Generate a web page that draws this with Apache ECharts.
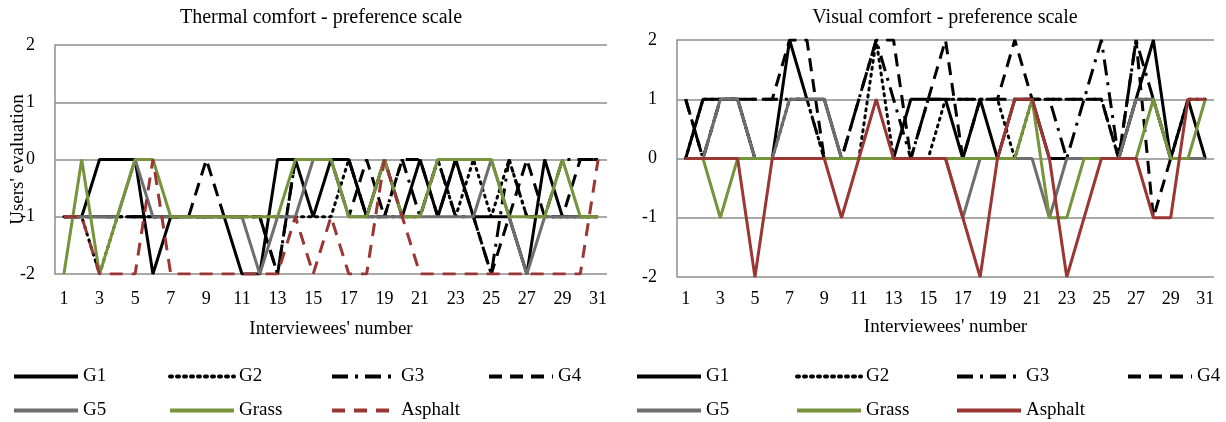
<!DOCTYPE html>
<html>
<head>
<meta charset="utf-8">
<script src="https://cdn.jsdelivr.net/npm/echarts@6/dist/echarts.min.js"></script>
<style>
  html, body { margin: 0; padding: 0; background: #fff; }
  #main { width: 1226px; height: 422px; }
</style>
</head>
<body>
<div id="main"></div>
<script>
// interviewees 1..31
var interviewees = [];
for (var i = 1; i <= 31; i++) interviewees.push(String(i));
var yTicks = [-2, -1, 0, 1, 2];
var groups = ['G1', 'G2', 'G3', 'G4', 'G5', 'Grass', 'Asphalt'];

// Thermal comfort - preference scale
var thermalG1 = [-1,-1,0,0,0,-2,-1,-1,-1,-1,-2,-2,0,0,-1,0,0,-1,0,-1,0,-1,0,-1,-1,-1,-2,0,-1,-1,-1];
var thermalG2 = [-1,-1,-2,-1,-1,-1,-1,-1,-1,-1,-1,-1,-1,-1,-1,-1,0,-1,-1,-1,-1,0,-1,0,-1,0,-1,-1,-1,-1,-1];
var thermalG3 = [-1,-1,-1,-1,-1,-1,-1,-1,-1,-1,-1,-1,-2,0,0,0,0,-1,-1,0,-1,0,-1,-1,-2,0,-1,-1,0,0,0];
var thermalG4 = [-1,-1,-1,-1,-1,-1,-1,-1,0,-1,-1,-1,-2,0,0,0,-1,0,-1,0,0,-1,0,-1,-2,-1,0,-1,-1,0,0];
var thermalG5 = [-1,-1,-1,-1,0,-1,-1,-1,-1,-1,-1,-2,-1,-1,0,0,-1,-1,-1,-1,-1,-1,-1,-1,0,-1,-2,-1,-1,-1,-1];
var thermalGrass = [-2,0,-2,-1,0,0,-1,-1,-1,-1,-1,-1,-1,0,0,0,-1,-1,0,-1,-1,0,0,0,0,-1,-1,-1,0,-1,-1];
var thermalAsphalt = [-1,-1,-2,-2,-2,0,-2,-2,-2,-2,-2,-2,-2,-1,-2,-1,-2,-2,0,-1,-2,-2,-2,-2,-2,-2,-2,-2,-2,-2,0];

// Visual comfort - preference scale
var visualG1 = [0,1,1,1,0,0,2,1,1,0,0,0,0,1,1,1,0,1,0,1,1,0,0,0,0,0,1,2,0,1,0];
var visualG2 = [0,1,1,1,0,0,1,1,0,0,0,2,0,0,0,1,1,1,1,0,1,1,1,1,1,0,1,1,0,1,1];
var visualG3 = [1,0,1,1,1,1,1,1,0,0,1,2,1,0,1,1,1,1,1,1,1,1,0,1,2,0,2,1,0,0,0];
var visualG4 = [1,0,1,1,1,1,2,2,0,0,1,2,2,0,1,2,0,1,1,2,1,1,1,1,1,0,2,-1,0,0,0];
var visualG5 = [0,0,1,1,0,0,1,1,1,0,0,0,0,0,0,0,-1,0,0,0,0,-1,0,0,0,0,1,1,0,0,0];
var visualGrass = [0,0,-1,0,0,0,0,0,0,0,0,0,0,0,0,0,0,0,0,0,1,-1,-1,0,0,0,0,1,0,0,1];
var visualAsphalt = [0,0,0,0,-2,0,0,0,0,-1,0,1,0,0,0,0,-1,-2,0,1,1,0,-2,-1,0,0,0,-1,-1,1,1];

var thermalData = [thermalG1, thermalG2, thermalG3, thermalG4, thermalG5, thermalGrass, thermalAsphalt];
var visualData = [visualG1, visualG2, visualG3, visualG4, visualG5, visualGrass, visualAsphalt];

var FONT = 'Liberation Serif';
var colors = ['#000000', '#000000', '#000000', '#000000', '#6e6e6e', '#77933c', '#9a3735'];
var dashes = ['solid', [2, 5], [16, 7, 3, 7], [13, 8], 'solid', 'solid', [13, 9]];

function makeSeries(prefix, data, idx, asphaltSolid) {
  return groups.map(function (g, k) {
    var type = dashes[k];
    if (g === 'Asphalt' && asphaltSolid) type = 'solid';
    return {
      name: prefix + g,
      type: 'line',
      xAxisIndex: idx,
      yAxisIndex: idx,
      data: data[k],
      symbol: 'none',
      lineStyle: { color: colors[k], width: 3, type: type, cap: k === 1 ? 'round' : 'butt' },
      itemStyle: { color: colors[k] },
      emphasis: { disabled: true }
    };
  });
}

function xAxis(idx) {
  return {
    type: 'category', gridIndex: idx, data: interviewees, boundaryGap: true,
    name: "Interviewees' number", nameLocation: 'middle', nameGap: idx === 0 ? 46 : 41,
    nameTextStyle: { fontFamily: FONT, fontSize: 19, color: '#000' },
    axisLine: { show: false },
    axisTick: { show: false },
    axisLabel: { interval: 1, margin: idx === 0 ? 16 : 13, fontFamily: FONT, fontSize: 18, color: '#000' }
  };
}

function yAxis(idx) {
  return {
    type: 'value', gridIndex: idx, min: yTicks[0], max: yTicks[yTicks.length - 1], interval: 1,
    name: idx === 0 ? "Users' evaluation" : '', nameLocation: 'middle', nameGap: 27,
    nameMoveOverlap: false,
    nameTextStyle: { fontFamily: FONT, fontSize: 19, color: '#000' },
    axisLine: { show: true, lineStyle: { color: '#8c8c8c', width: 1.5 } },
    axisTick: { show: false },
    splitLine: { lineStyle: { color: '#8c8c8c', width: 1.5 } },
    axisLabel: { margin: 20, fontFamily: FONT, fontSize: 18, color: '#000' }
  };
}

// legend slots: [group index, left, top]
var leftSlots = [[0, 12, 367], [1, 168, 367], [2, 330, 367], [3, 487, 367],
                 [4, 12, 401], [5, 168, 401], [6, 330, 401]];
var rightSlots = [[0, 635, 367], [1, 795, 367], [2, 955, 367], [3, 1126, 367],
                  [4, 635, 401], [5, 795, 401], [6, 955, 401]];

function legends(prefix, slots) {
  return slots.map(function (s) {
    return {
      data: [prefix + groups[s[0]]],
      left: s[1], top: s[2],
      padding: 0,
      itemWidth: 64, itemHeight: 18,
      selectedMode: false,
      itemStyle: { opacity: 0, borderWidth: 0 },
      lineStyle: { width: 4 },
      formatter: function (n) { return n.replace(prefix, ''); },
      textStyle: { fontFamily: FONT, fontSize: 19, color: '#000' }
    };
  });
}

var myChart = echarts.init(document.getElementById('main'));

var option = {
  animation: false,
  backgroundColor: '#ffffff',
  title: [
    { text: 'Thermal comfort - preference scale', left: 316, top: 3, textAlign: 'center',
      textStyle: { fontFamily: FONT, fontSize: 20, fontWeight: 'normal', color: '#000' } },
    { text: 'Visual comfort - preference scale', left: 940, top: 3, textAlign: 'center',
      textStyle: { fontFamily: FONT, fontSize: 20, fontWeight: 'normal', color: '#000' } }
  ],
  grid: [
    { left: 55, right: 619, top: 45, bottom: 148 },
    { left: 677, right: 12, top: 40, bottom: 145 }
  ],
  xAxis: [xAxis(0), xAxis(1)],
  yAxis: [yAxis(0), yAxis(1)],
  legend: legends('T ', leftSlots).concat(legends('V ', rightSlots)),
  series: makeSeries('T ', thermalData, 0, false).concat(makeSeries('V ', visualData, 1, true))
};

myChart.setOption(option);
</script>
</body>
</html>
